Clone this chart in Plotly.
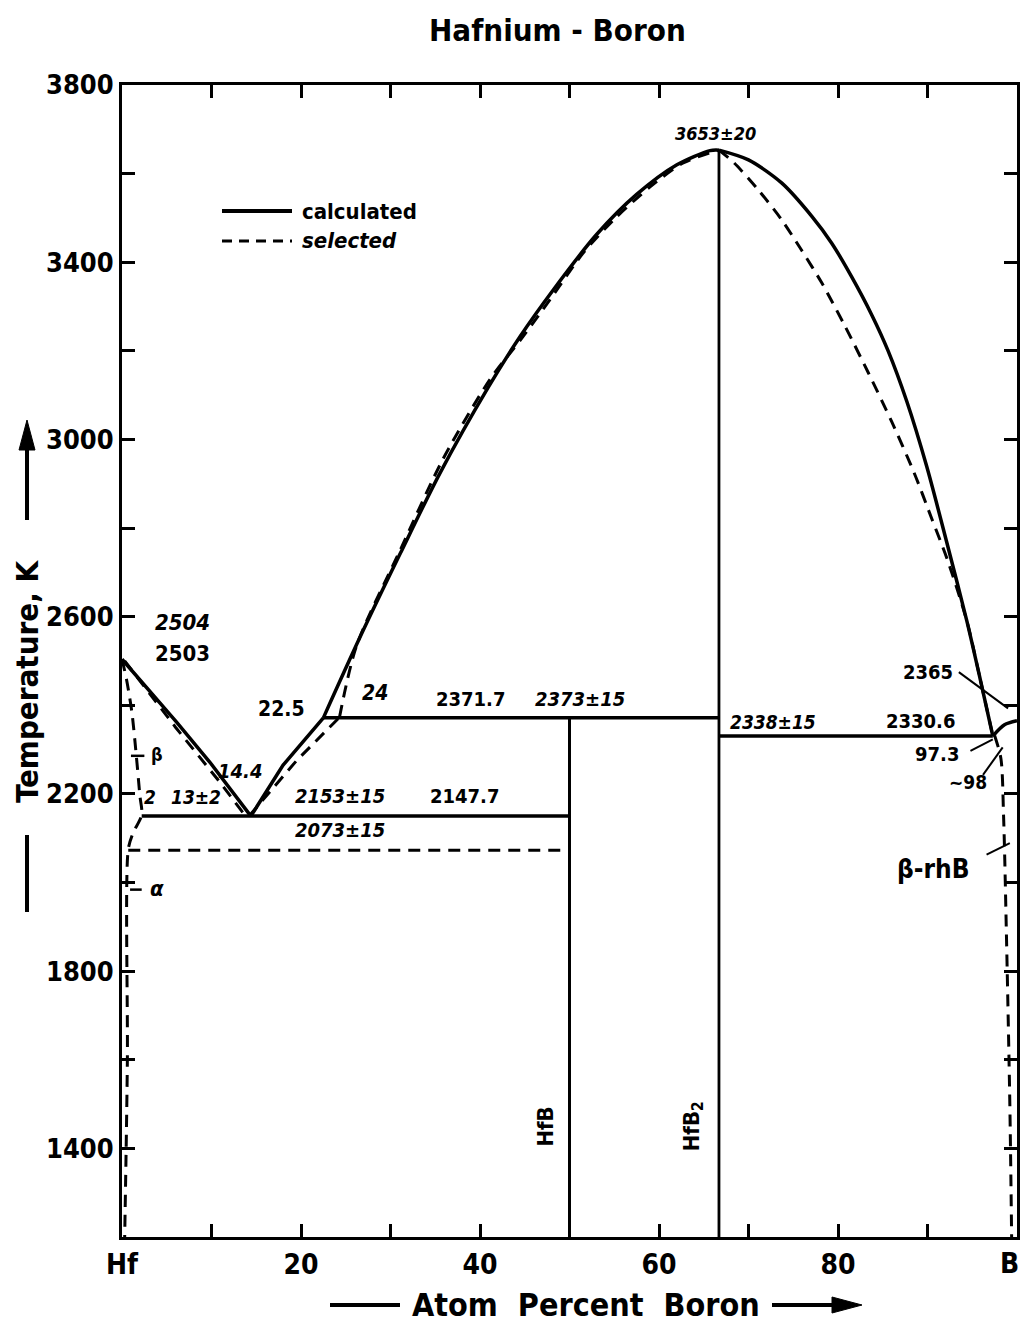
import plotly.graph_objects as go

# ---------------- data (atom % B, temperature K) ----------------
# calculated (solid) curves
calc_liq_hf_x = [0, 6.1, 9.8, 14.4]
calc_liq_hf_t = [2504, 2362, 2272, 2150]
calc_liq_hfb_x = [14.4, 18.0, 22.5]
calc_liq_hfb_t = [2150, 2265, 2371.7]
calc_liq_hfb2l_x = [22.5, 26.6, 31.1, 35.5, 40.9, 44.5, 48.2, 53.0, 57.5, 62.0, 65.7, 66.7]
calc_liq_hfb2l_t = [2371.7, 2554, 2743, 2923, 3117, 3233, 3338, 3462, 3553, 3620, 3652, 3653]
calc_liq_hfb2r_x = [66.7, 70.0, 73.7, 77.1, 79.3, 81.5, 83.8, 85.6, 87.7, 89.9, 92.1, 94.4, 95.9, 97.3]
calc_liq_hfb2r_t = [3653, 3631, 3579, 3503, 3443, 3368, 3280, 3200, 3085, 2940, 2772, 2590, 2458, 2330.6]
calc_liq_b_x = [97.3, 98.6, 100]
calc_liq_b_t = [2330.6, 2356, 2365]

# selected (dashed) curves
sel_liq_hf_x = [0.3, 6.0, 11.0, 13.8]
sel_liq_hf_t = [2500, 2350, 2225, 2150]
sel_liq_hfb_x = [14.2, 19.5, 24.3]
sel_liq_hfb_t = [2150, 2275, 2373]
sel_liq_hfb2l_x = [24.3, 26.2, 31.1, 35.9, 41.1, 44.8, 47.8, 51.5, 54.9, 59.0, 62.7, 66.7]
sel_liq_hfb2l_t = [2373, 2534, 2751, 2957, 3135, 3232, 3315, 3420, 3495, 3570, 3624, 3653]
sel_liq_hfb2r_x = [66.7, 68.4, 71.1, 73.7, 75.9, 78.2, 80.8, 83.4, 86.0, 88.5, 90.5, 92.2, 94.4, 95.9, 97.2]
sel_liq_hfb2r_t = [3653, 3624, 3563, 3496, 3428, 3353, 3255, 3150, 3040, 2925, 2820, 2730, 2590, 2458, 2340]
sel_hf_side_x = [0, 0.5, 1.1, 1.6, 2.0, 2.2, 1.2, 0.7, 0.6, 0.3]
sel_hf_side_t = [2504, 2459, 2385, 2286, 2196, 2153, 2110, 2075, 1600, 1200]
sel_b_side_x = [97.5, 98.2, 98.5, 98.8, 99.2, 99.4]
sel_b_side_t = [2332, 2280, 2150, 1900, 1500, 1200]

# invariant lines
eutectic_hf_x = [2.2, 50]
eutectic_hf_t = [2150, 2150]
eutectoid_sel_x = [0.7, 50]
eutectoid_sel_t = [2073, 2073]
peritectic_x = [22.5, 66.7]
peritectic_t = [2371.7, 2371.7]
eutectic_b_x = [66.7, 97.3]
eutectic_b_t = [2330.6, 2330.6]
hfb_x = [50, 50]
hfb_t = [1200, 2371.7]
hfb2_x = [66.7, 66.7]
hfb2_t = [1200, 3653]

x_tickvals = [0, 20, 40, 60, 80]
x_ticktext = ["Hf", "20", "40", "60", "80"]
x_minor = [10, 30, 50, 70, 90]
x_end_value, x_end_label = 100, "B"
y_tickvals = [1400, 1800, 2200, 2600, 3000, 3400, 3800]
y_ticktext = ["1400", "1800", "2200", "2600", "3000", "3400", "3800"]
y_minor = [1200, 1600, 2000, 2400, 2800, 3200, 3600]

FONT = "DejaVu Sans Condensed, Liberation Sans Narrow, Arial Narrow, DejaVu Sans, sans-serif"
K = "black"
SOLID_W = 3.5
DASH_W = 3
DASH = "12px,8px"

# plot-area pixel geometry (for paper-referenced decorations)
L, R, T, B = 122, 1017, 85, 1237


def px(xp):
    return (xp - L) / (R - L)


def py(yp):
    return (B - yp) / (B - T)


fig = go.Figure()


def solid(x, t, shape="linear", w=SOLID_W):
    fig.add_trace(go.Scatter(x=x, y=t, mode="lines", showlegend=False, hoverinfo="skip",
                             line=dict(color=K, width=w, shape=shape, smoothing=0.8)))


def dashed(x, t, shape="linear", w=DASH_W):
    fig.add_trace(go.Scatter(x=x, y=t, mode="lines", showlegend=False, hoverinfo="skip",
                             line=dict(color=K, width=w, dash=DASH, shape=shape, smoothing=0.8)))


# dashed first (underneath)
dashed(sel_liq_hf_x, sel_liq_hf_t)
dashed(sel_liq_hfb_x, sel_liq_hfb_t)
dashed(sel_liq_hfb2l_x, sel_liq_hfb2l_t, "spline")
dashed(sel_liq_hfb2r_x, sel_liq_hfb2r_t, "spline")
dashed(sel_hf_side_x, sel_hf_side_t, "spline")
dashed(sel_b_side_x, sel_b_side_t, "spline")
dashed(eutectoid_sel_x, eutectoid_sel_t)

solid(calc_liq_hf_x, calc_liq_hf_t)
solid(calc_liq_hfb_x, calc_liq_hfb_t)
solid(calc_liq_hfb2l_x, calc_liq_hfb2l_t, "spline")
solid(calc_liq_hfb2r_x, calc_liq_hfb2r_t, "spline")
solid(calc_liq_b_x, calc_liq_b_t, "spline")
solid(eutectic_hf_x, eutectic_hf_t)
solid(peritectic_x, peritectic_t)
solid(eutectic_b_x, eutectic_b_t)
solid(hfb_x, hfb_t, w=3)
solid(hfb2_x, hfb2_t, w=2.8)

# small phase markers on the Hf side
solid([1.0, 2.5], [2286, 2286], w=2.5)
solid([0.9, 2.2], [1984, 1984], w=2.5)

# leader lines (B side)
solid([93.5, 99.0], [2475, 2393], w=2)
solid([94.8, 97.3], [2297, 2323], w=2)
solid([96.2, 98.4], [2243, 2305], w=2)
solid([96.6, 99.2], [2063, 2089], w=2)

tick_common = dict(ticks="inside", ticklen=13, tickwidth=3, tickcolor=K,
                   showline=True, linewidth=3, linecolor=K, mirror="ticks",
                   showgrid=False, zeroline=False, automargin=False)

fig.update_layout(
    width=1022, height=1324,
    margin=dict(l=L, r=1022 - R, t=T, b=1324 - B),
    paper_bgcolor="white", plot_bgcolor="white",
    font=dict(family=FONT, color=K),
    showlegend=False,
    xaxis=dict(range=[0, 100], tickvals=x_tickvals, ticktext=x_ticktext,
               minor=dict(tickvals=x_minor, ticks="inside", ticklen=13, tickwidth=3, tickcolor=K,
                          showgrid=False),
               tickfont=dict(family=FONT, size=28, color=K, weight="bold"), **tick_common),
    yaxis=dict(range=[1200, 3800], tickvals=y_tickvals, ticktext=y_ticktext,
               minor=dict(tickvals=y_minor, ticks="inside", ticklen=13, tickwidth=3, tickcolor=K,
                          showgrid=False),
               tickfont=dict(family=FONT, size=27, color=K, weight="bold"), **tick_common),
)

# end-of-axis label "B" (right-aligned so it stays inside the page)
fig.add_annotation(x=x_end_value, xref="x", y=py(1263), yref="paper", text=f"<b>{x_end_label}</b>",
                   showarrow=False, xanchor="right", yanchor="middle", xshift=4,
                   font=dict(family=FONT, size=28, color=K))


def label(x, t, text, size=20, italic=False, angle=0, xanchor="center"):
    s = f"<b><i>{text}</i></b>" if italic else f"<b>{text}</b>"
    fig.add_annotation(x=x, y=t, xref="x", yref="y", text=s, showarrow=False,
                       textangle=angle, xanchor=xanchor, yanchor="middle",
                       font=dict(family=FONT, size=size, color=K))


label(6.8, 2588, "2504", 22, True)
label(6.8, 2518, "2503", 22)
label(17.8, 2392, "22.5", 21)
label(28.3, 2428, "24", 21, True)
label(13.2, 2252, "14.4", 20, True)
label(3.1, 2193, "2", 19, True)
label(8.3, 2193, "13±2", 19, True)
label(24.4, 2196, "2153±15", 20, True)
label(38.3, 2196, "2147.7", 20)
label(24.4, 2119, "2073±15", 20, True)
label(38.9, 2414, "2371.7", 20)
label(51.2, 2414, "2373±15", 20, True)
label(66.3, 3690, "3653±20", 18, True)
label(72.7, 2362, "2338±15", 19, True)
label(89.2, 2365, "2330.6", 20)
label(90.1, 2475, "2365", 20)
label(91.1, 2290, "97.3", 20)
label(94.5, 2227, "~98", 19)
label(90.6, 2031, "β-rhB", 26)
label(3.9, 2290, "β", 18)
label(3.9, 1986, "α", 22, True)
label(47.3, 1450, "HfB", 22, angle=-90)
label(63.8, 1450, "HfB<sub>2</sub>", 22, angle=-90)

# legend (custom, drawn in paper coordinates)
fig.add_shape(type="line", xref="paper", yref="paper", x0=px(222), x1=px(292), y0=py(211), y1=py(211),
              line=dict(color=K, width=4))
fig.add_shape(type="line", xref="paper", yref="paper", x0=px(222), x1=px(292), y0=py(241), y1=py(241),
              line=dict(color=K, width=3, dash="10px,7px"))
fig.add_annotation(xref="paper", yref="paper", x=px(300), y=py(211), text="<b>calculated</b>",
                   showarrow=False, xanchor="left", yanchor="middle", font=dict(family=FONT, size=22, color=K))
fig.add_annotation(xref="paper", yref="paper", x=px(300), y=py(241), text="<b><i>selected</i></b>",
                   showarrow=False, xanchor="left", yanchor="middle", font=dict(family=FONT, size=22, color=K))

# title
fig.add_annotation(xref="paper", yref="paper", x=px(557), y=py(30),
                   text="<b>Hafnium - Boron</b>", showarrow=False, xanchor="center", yanchor="middle",
                   font=dict(family=FONT, size=31, color=K))

# x axis title with line and arrow
fig.add_annotation(xref="paper", yref="paper", x=px(586), y=py(1305),
                   text="<b>Atom  Percent  Boron</b>", showarrow=False, xanchor="center", yanchor="middle",
                   font=dict(family=FONT, size=32, color=K))
fig.add_shape(type="line", xref="paper", yref="paper", x0=px(330), x1=px(400),
              y0=py(1305), y1=py(1305), line=dict(color=K, width=4))
fig.add_shape(type="line", xref="paper", yref="paper", x0=px(772), x1=px(836),
              y0=py(1305), y1=py(1305), line=dict(color=K, width=4))
fig.add_shape(type="path", xref="paper", yref="paper",
              path=f"M {px(832)} {py(1297)} L {px(862)} {py(1305)} L {px(832)} {py(1313)} Z",
              fillcolor=K, line=dict(color=K, width=1))

# y axis title with line and arrow
fig.add_annotation(xref="paper", yref="paper", x=px(27), y=py(681),
                   text="<b>Temperature, K</b>", showarrow=False, textangle=-90,
                   xanchor="center", yanchor="middle", font=dict(family=FONT, size=31, color=K))
fig.add_shape(type="line", xref="paper", yref="paper", x0=px(27), x1=px(27),
              y0=py(835), y1=py(912), line=dict(color=K, width=4))
fig.add_shape(type="line", xref="paper", yref="paper", x0=px(27), x1=px(27),
              y0=py(520), y1=py(446), line=dict(color=K, width=4))
fig.add_shape(type="path", xref="paper", yref="paper",
              path=f"M {px(19)} {py(450)} L {px(27)} {py(420)} L {px(35)} {py(450)} Z",
              fillcolor=K, line=dict(color=K, width=1))

fig.write_html("out.html")
